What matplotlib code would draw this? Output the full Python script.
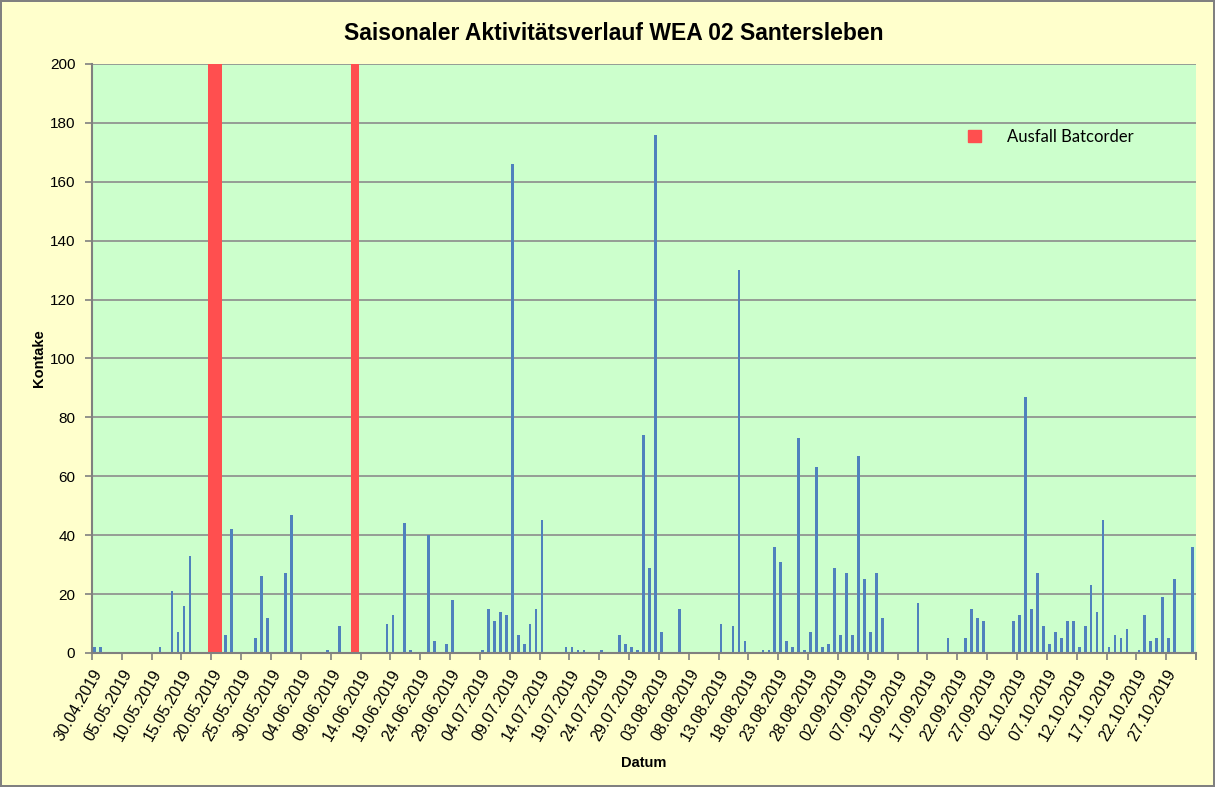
import numpy as np
import pandas as pd
import matplotlib
matplotlib.use("Agg")
import matplotlib.pyplot as plt
from matplotlib.patches import Patch

# Zeitraum der Erfassung
start = "2019-04-30"
ende = "2019-10-31"

# Nächte mit Kontakten (Datum, Anzahl)
datum = [
    "30.04", "01.05", "11.05", "13.05", "14.05", "15.05", "16.05", "22.05", "23.05",
    "27.05", "28.05", "29.05", "01.06", "02.06", "08.06", "10.06",
    "18.06", "19.06", "21.06", "22.06", "25.06", "26.06", "28.06", "29.06",
    "04.07", "05.07", "06.07", "07.07", "08.07", "09.07", "10.07", "11.07", "12.07",
    "13.07", "14.07", "18.07", "19.07", "20.07", "21.07", "24.07", "27.07", "28.07",
    "29.07", "30.07", "31.07", "01.08", "02.08", "03.08", "06.08",
    "13.08", "15.08", "16.08", "17.08", "20.08", "21.08", "22.08", "23.08", "24.08",
    "25.08", "26.08", "27.08", "28.08", "29.08", "30.08", "31.08",
    "01.09", "02.09", "03.09", "04.09", "05.09", "06.09", "07.09", "08.09", "09.09",
    "15.09", "20.09", "23.09", "24.09", "25.09", "26.09",
    "01.10", "02.10", "03.10", "04.10", "05.10", "06.10", "07.10", "08.10", "09.10",
    "10.10", "11.10", "12.10", "13.10", "14.10", "15.10", "16.10", "17.10", "18.10",
    "19.10", "20.10", "22.10", "23.10", "24.10", "25.10", "26.10", "27.10", "28.10",
    "31.10",
]
kontakte = [
    2, 2, 2, 21, 7, 16, 33, 6, 42,
    5, 26, 12, 27, 47, 1, 9,
    10, 13, 44, 1, 40, 4, 3, 18,
    1, 15, 11, 14, 13, 166, 6, 3, 10,
    15, 45, 2, 2, 1, 1, 1, 6, 3,
    2, 1, 74, 29, 176, 7, 15,
    10, 9, 130, 4, 1, 1, 36, 31, 4,
    2, 73, 1, 7, 63, 2, 3,
    29, 6, 27, 6, 67, 25, 7, 27, 12,
    17, 5, 5, 15, 12, 11,
    11, 13, 87, 15, 27, 9, 3, 7, 5,
    11, 11, 2, 9, 23, 14, 45, 2, 6,
    5, 8, 1, 13, 4, 5, 19, 5, 25,
    36,
]

# Ausfall Batcorder
ausfall = ["20.05", "21.05", "13.06"]

tage = pd.date_range(start, ende, freq="D")
tick_pos = np.arange(0, len(tage) + 1, 5)
tick_lab = [tage[i].strftime("%d.%m.%Y") if i < len(tage) else "" for i in tick_pos]


def idx(d):
    return (pd.to_datetime(d + ".2019", format="%d.%m.%Y") - tage[0]).days


x_k = np.array([idx(d) for d in datum])
x_a = np.array([idx(d) for d in ausfall])

plt.rcParams['font.family'] = ['Liberation Sans', 'DejaVu Sans']

fig = plt.figure(figsize=(12.15, 7.87), dpi=100, facecolor="#FFFFCC",
                 edgecolor="#808080", linewidth=1.5)
ax = fig.add_axes([0.0757, 0.1703, 0.9087, 0.7484])
ax.set_facecolor("#CCFFCC")

ax.bar(x_a + 0.1, [200] * len(x_a), width=1.3, color="#FF4F4F", zorder=3)
ax.bar(x_k + 0.42, kontakte, width=0.45, color="#4F81BD", zorder=3)

ax.set_xlim(0, len(tage))
ax.set_ylim(0, 200)
ax.set_yticks(np.arange(0, 201, 20))
ax.set_xticks(list(tick_pos) + [len(tage)])
ax.set_xticklabels(tick_lab + [""], rotation=60, ha="right", rotation_mode="anchor")
ax.tick_params(axis="both", color="#808080", length=5, width=1.2)
ax.tick_params(axis="x", labelsize=11.5, pad=5)
ax.tick_params(axis="y", labelsize=11, pad=7)
ax.grid(axis="y", color="#8C8C8C", linewidth=1.2, zorder=0)
ax.set_axisbelow(True)
for s in ["top", "right"]:
    ax.spines[s].set_visible(False)
for s in ["left", "bottom"]:
    ax.spines[s].set_color("#808080")
    ax.spines[s].set_linewidth(1.5)
    ax.spines[s].set_zorder(4)

ax.set_xlabel("Datum", fontsize=10.5, fontweight="bold", labelpad=9)
ax.set_ylabel("Kontake", fontsize=10.5, fontweight="bold", labelpad=3)
fig.text(0.505, 0.958, "Saisonaler Aktivitätsverlauf WEA 02 Santersleben",
         ha="center", va="center", fontsize=16.5, fontweight="bold")

ax.legend(handles=[Patch(color="#FF4F4F", label="Ausfall Batcorder")],
          loc="center left", bbox_to_anchor=(0.78, 0.876), frameon=False,
          prop={"family": "Lato", "size": 12}, handlelength=0.75, handleheight=0.75,
          handletextpad=1.6)

fig.savefig("out.png", dpi=100, facecolor=fig.get_facecolor(),
            edgecolor=fig.get_edgecolor())
